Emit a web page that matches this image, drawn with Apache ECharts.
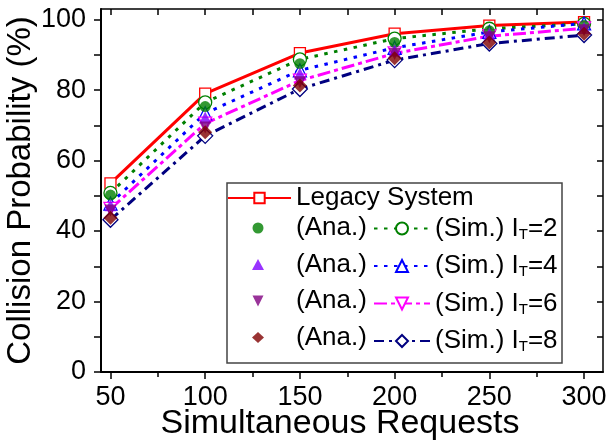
<!DOCTYPE html>
<html><head><meta charset="utf-8">
<script src="https://cdn.jsdelivr.net/npm/echarts@6/dist/echarts.min.js"></script>
<style>html,body{margin:0;padding:0;background:#fff}#c{width:608px;height:446px}</style>
</head><body><div id="c"></div>
<script>
const requests = [50, 100, 150, 200, 250, 300];
const legacy = [53.5, 79.0, 90.5, 96.0, 98.3, 99.3];
const ana2 = [50.2, 75.3, 87.5, 93.5, 96.8, 98.3];
const sim2 = [50.8, 76.5, 88.7, 94.6, 97.4, 98.8];
const ana4 = [47.3, 72.2, 84.7, 91.2, 96.0, 97.6];
const sim4 = [47.8, 73.4, 85.6, 92.0, 96.5, 98.9];
const ana6 = [45.8, 69.4, 82.2, 90.2, 95.0, 97.0];
const sim6 = [46.3, 70.5, 82.7, 90.4, 95.3, 97.5];
const ana8 = [43.8, 68.0, 81.3, 89.0, 93.5, 96.0];
const sim8 = [43.2, 67.0, 80.3, 88.5, 93.2, 95.6];
const xMajor = [50, 100, 150, 200, 250, 300];
const xMinor = [75, 125, 175, 225, 275];
const xAll = [50, 75, 100, 125, 150, 175, 200, 225, 250, 275, 300];
const yTicks = [0, 10, 20, 30, 40, 50, 60, 70, 80, 90, 100];
const yLabels = [0, 20, 40, 60, 80, 100];
const itValues = {sim2: 2, sim4: 4, sim6: 6, sim8: 8};

const FONT = 'Liberation Sans';
const pts = arr => requests.map((x, i) => [x, arr[i]]);
const invTri = 'path://M0,0L10,0L5,10Z';

function simSeries(name, data, color, symbol, size, dash, z) {
  return {
    name, type: 'line', data: pts(data), symbol, symbolSize: size, z, symbolKeepAspect: true,
    itemStyle: {color: '#fff', borderColor: color, borderWidth: 1.3},
    lineStyle: {color, width: 3, type: dash, cap: 'butt'},
    emphasis: {disabled: true}
  };
}
function anaSeries(name, data, color, symbol, size, z) {
  return {
    name, type: 'scatter', data: pts(data), symbol, symbolSize: size, z, symbolKeepAspect: true,
    itemStyle: {color}, emphasis: {disabled: true}
  };
}

const chart = echarts.init(document.getElementById('c'), null, {renderer: 'canvas'});
const axisLine = w => ({show: true, onZero: false, lineStyle: {color: '#000', width: w}});
chart.setOption({
  animation: false,
  textStyle: {fontFamily: FONT},
  grid: {left: 101, right: 5, top: 9, bottom: 74, containLabel: false, outerBoundsMode: 'none'},
  xAxis: [
    {type: 'value', min: 45, max: 310, position: 'bottom', axisLine: axisLine(2),
     axisTick: {show: true, customValues: xMajor, length: 7, lineStyle: {color: '#000', width: 1.5}},
     axisLabel: {customValues: xMajor, fontSize: 27, color: '#000', margin: 12, fontFamily: FONT},
     splitLine: {show: false},
     name: 'Simultaneous Requests', nameLocation: 'middle', nameGap: 35, nameMoveOverlap: false,
     nameTextStyle: {fontSize: 34, color: '#000', fontFamily: FONT, padding: [0, 24, 0, 0]}},
    {type: 'value', min: 45, max: 310, position: 'bottom', axisLine: {show: false},
     axisTick: {show: true, customValues: xMinor, length: 5, lineStyle: {color: '#000', width: 1.5}},
     axisLabel: {show: false}, splitLine: {show: false}},
    {type: 'value', min: 45, max: 310, position: 'top', axisLine: axisLine(1.5),
     axisTick: {show: true, inside: true, customValues: xAll, length: 6, lineStyle: {color: '#000', width: 1.5}},
     axisLabel: {show: false}, splitLine: {show: false}}
  ],
  yAxis: [
    {type: 'value', min: 0, max: 103, position: 'left', axisLine: axisLine(2),
     axisTick: {show: true, customValues: yTicks, length: 7, lineStyle: {color: '#000', width: 1.5}},
     axisLabel: {customValues: yLabels, fontSize: 27, color: '#000', margin: 15, fontFamily: FONT},
     splitLine: {show: false},
     name: 'Collision Probability (%)', nameLocation: 'middle', nameGap: 64, nameMoveOverlap: false,
     nameTextStyle: {fontSize: 33, color: '#000', fontFamily: FONT}},
    {type: 'value', min: 0, max: 103, position: 'right', axisLine: axisLine(1.5),
     axisTick: {show: true, inside: true, customValues: yTicks, length: 6, lineStyle: {color: '#000', width: 1.5}},
     axisLabel: {show: false}, splitLine: {show: false}}
  ],
  legend: [
    {data: ['Legacy System'], left: 227, top: 185, padding: 0, orient: 'vertical', selectedMode: false,
     itemWidth: 63, itemHeight: 13, textStyle: {fontSize: 26, color: '#000', fontFamily: FONT}},
    {data: ['ana2', 'ana4', 'ana6', 'ana8'], left: 252, top: 215, padding: 0, orient: 'vertical', selectedMode: false,
     itemWidth: 12, itemHeight: 11, itemGap: 10.5, formatter: () => '{a|(Ana.)}',
     textStyle: {fontSize: 26, color: '#000', fontFamily: FONT,
       rich: {a: {fontSize: 26, color: '#000', fontFamily: FONT, padding: [0, 0, 0, 27]}}}},
    {data: ['sim2', 'sim4', 'sim6', 'sim8'], left: 373, top: 215, padding: 0, orient: 'vertical', selectedMode: false,
     itemWidth: 56, itemHeight: 15, itemGap: 10.5,
     formatter: n => '(Sim.) I{sub|T}=' + itValues[n],
     textStyle: {fontSize: 26, color: '#000', fontFamily: FONT, lineHeight: 26,
       rich: {sub: {fontSize: 15, lineHeight: 15, padding: [12, 0, 0, 0], fontFamily: FONT, color: '#000'}}}}
  ],
  graphic: [
    {type: 'rect', shape: {x: 227, y: 183, width: 335, height: 180}, z: 100, silent: true,
     style: {fill: 'none', stroke: '#444', lineWidth: 1.5}}
  ],
  series: [
    {name: 'Legacy System', type: 'line', data: pts(legacy), symbol: 'rect', symbolSize: 11, z: 3,
     itemStyle: {color: '#fff', borderColor: '#ff0000', borderWidth: 1.3},
     lineStyle: {color: '#ff0000', width: 3}, emphasis: {disabled: true}},
    simSeries('sim2', sim2, '#008000', 'circle', 13, [3.5, 6.5], 4),
    anaSeries('ana2', ana2, '#008000', 'circle', 11, 5),
    simSeries('sim4', sim4, '#0000ff', 'triangle', 13, [3.5, 6.5], 4),
    anaSeries('ana4', ana4, '#8000ff', 'triangle', 12, 5),
    simSeries('sim6', sim6, '#ff00ff', invTri, 13, [13, 4, 4, 4], 4),
    anaSeries('ana6', ana6, '#800080', invTri, 12, 5),
    simSeries('sim8', sim8, '#000080', 'diamond', 15, [10, 5, 3, 5], 4),
    anaSeries('ana8', ana8, '#800000', 'diamond', 14, 5)
  ]
});
</script></body></html>
